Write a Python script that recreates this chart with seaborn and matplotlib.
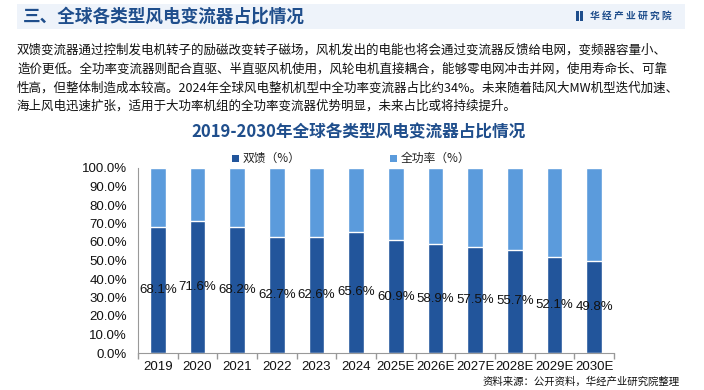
import matplotlib
matplotlib.use("Agg")
import matplotlib.pyplot as plt
import seaborn as sns
import pandas as pd
from matplotlib.patches import Rectangle

years = ["2019", "2020", "2021", "2022", "2023", "2024", "2025E", "2026E", "2027E", "2028E", "2029E", "2030E"]
dfig = [68.1, 71.6, 68.2, 62.7, 62.6, 65.6, 60.9, 58.9, 57.5, 55.7, 52.1, 49.8]
full = [round(100 - v, 1) for v in dfig]
yticks = [0, 10, 20, 30, 40, 50, 60, 70, 80, 90, 100]

header = "三、全球各类型风电变流器占比情况"
brand = "华 经 产 业 研 究 院"
para = ["双馈变流器通过控制发电机转子的励磁改变转子磁场，风机发出的电能也将会通过变流器反馈给电网，变频器容量小、",
        "造价更低。全功率变流器则配合直驱、半直驱风机使用，风轮电机直接耦合，能够零电网冲击并网，使用寿命长、可靠",
        "性高，但整体制造成本较高。2024年全球风电整机机型中全功率变流器占比约34%。未来随着陆风大MW机型迭代加速、",
        "海上风电迅速扩张，适用于大功率机组的全功率变流器优势明显，未来占比或将持续提升。"]
chart_title = "2019-2030年全球各类型风电变流器占比情况"
legend_labels = ["双馈（%）", "全功率（%）"]
source = "资料来源：公开资料，华经产业研究院整理"

sns.set_theme(style="white")
plt.rcParams['font.family'] = ['Noto Sans CJK SC', 'DejaVu Sans']

DARK = "#22559B"
LIGHT = "#5B9BDC"
NAVY = "#1F4E8C"
NUMFONT = ["Liberation Sans", "DejaVu Sans"]

fig = plt.figure(figsize=(7.04, 3.9), dpi=100)
W, H = 704, 390

def fx(x): return x / W
def fy(y): return 1 - y / H

# header band
fig.patches.append(Rectangle((fx(17), fy(29)), 668 / W, 25 / H, transform=fig.transFigure,
                             facecolor="#EEF3FA", edgecolor="none", zorder=0))
fig.text(fx(23), fy(16.5), header, fontsize=12.7, fontweight="bold", color=NAVY, va="center", ha="left")
fig.patches.append(Rectangle((fx(576), fy(21)), 2.5 / W, 10 / H, transform=fig.transFigure,
                             facecolor=NAVY, edgecolor="none"))
fig.patches.append(Rectangle((fx(580), fy(21)), 2.5 / W, 10 / H, transform=fig.transFigure,
                             facecolor=NAVY, edgecolor="none"))
fig.text(fx(590), fy(16), brand, fontsize=7, fontweight="bold", color=NAVY, va="center", ha="left")

for i, line in enumerate(para):
    fig.text(fx(17), fy(50.5 + i * 18.6), line, fontsize=9.0, color="#111111", va="center", ha="left")

fig.text(fx(358), fy(132), chart_title, fontsize=12, fontweight="bold", color=NAVY, va="center", ha="center")

# legend
fig.patches.append(Rectangle((fx(232), fy(162)), 7 / W, 7 / H, transform=fig.transFigure,
                             facecolor=DARK, edgecolor="none"))
fig.text(fx(243), fy(158), legend_labels[0], fontsize=8.5, color="#222222", va="center", ha="left")
fig.patches.append(Rectangle((fx(390), fy(162)), 7 / W, 7 / H, transform=fig.transFigure,
                             facecolor=LIGHT, edgecolor="none"))
fig.text(fx(401), fy(158), legend_labels[1], fontsize=8.5, color="#222222", va="center", ha="left")

ax = fig.add_axes([fx(138), fy(353), 476 / W, 185 / H])
df = pd.DataFrame({"year": years, "dfig": dfig, "total": [d + f for d, f in zip(dfig, full)]})
sns.barplot(data=df, x="year", y="total", color=LIGHT, width=0.4, ax=ax, saturation=1)
sns.barplot(data=df, x="year", y="dfig", color=DARK, width=0.4, ax=ax, saturation=1)

for i, v in enumerate(dfig):
    ax.text(i, v / 2, f"{v:.1f}%", ha="center", va="center", fontsize=9.5, color="#111111",
            family=NUMFONT)

ax.set_xlim(-0.5, len(years) - 0.5)
ax.set_ylim(0, 100)
ax.set_yticks(yticks)
ax.set_yticklabels([f"{t:.1f}%" for t in yticks], fontsize=9.5, family=NUMFONT)
ax.set_xticks(range(len(years)))
ax.set_xticklabels(years, fontsize=9.5, family=NUMFONT)
ax.set_xticks([i - 0.5 for i in range(len(years) + 1)], minor=True)
ax.tick_params(axis="x", which="major", length=0, pad=6, colors="#111111")
ax.tick_params(axis="x", which="minor", length=4, color="#999999", bottom=True)
ax.tick_params(axis="y", length=0, pad=8, colors="#111111")
ax.set_xlabel("")
ax.set_ylabel("")
for s in ["top", "right"]:
    ax.spines[s].set_visible(False)
for s in ["left", "bottom"]:
    ax.spines[s].set_color("#999999")
    ax.spines[s].set_linewidth(0.8)

fig.text(fx(680), fy(382), source, fontsize=7.5, color="#111111", va="center", ha="right")

fig.savefig("out.png", dpi=100)
